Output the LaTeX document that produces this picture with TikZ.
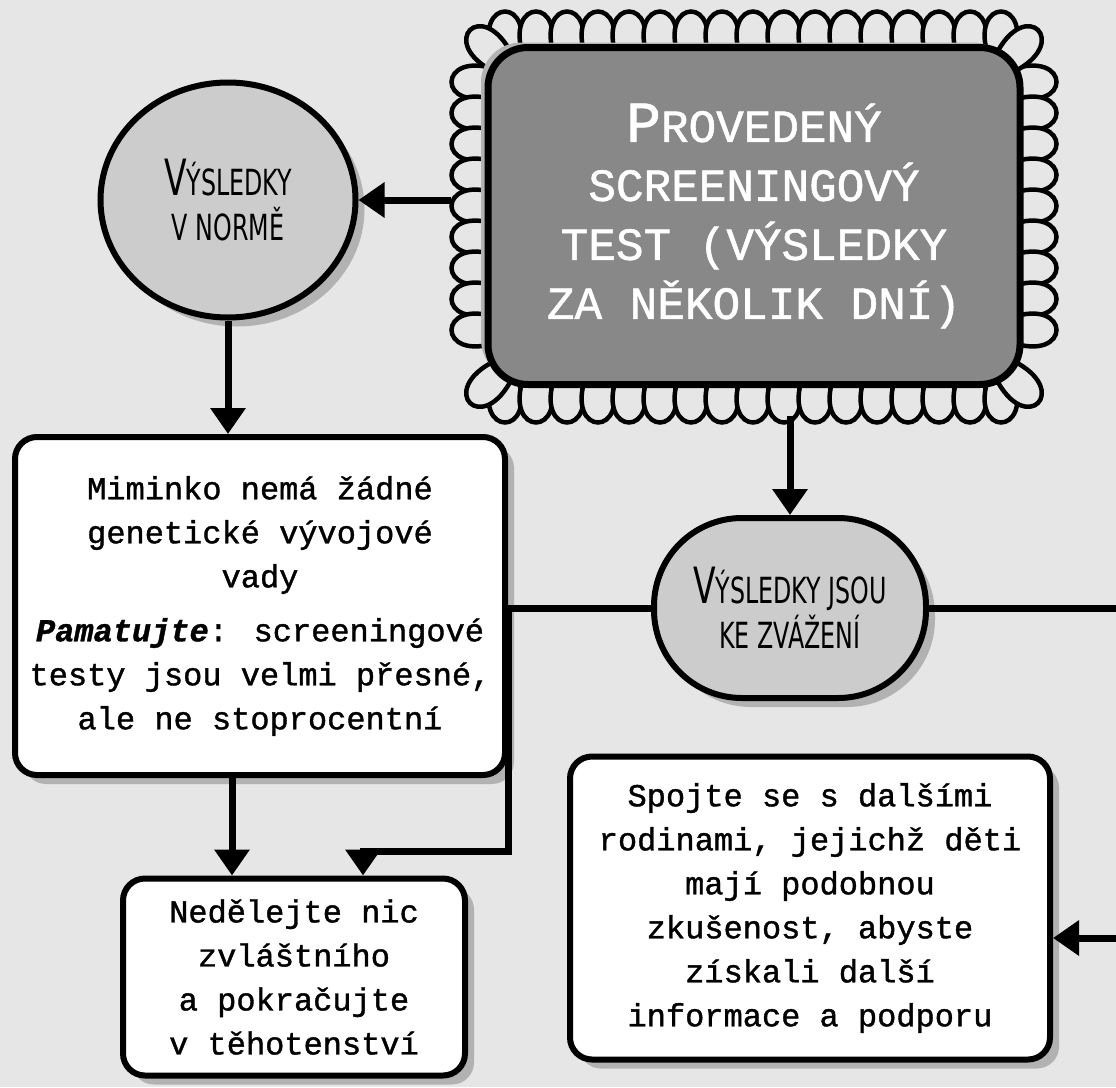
\documentclass[tikz,border=0pt]{standalone}
\usepackage{fontspec}
\usetikzlibrary{arrows.meta,shadows,shapes.geometric}
\newfontfamily\typefont[FakeBold=1.2]{Liberation Mono}
\newfontfamily\handfont[FakeStretch=0.66]{DejaVu Sans}

\definecolor{bgGray}{RGB}{230,230,230}
\definecolor{bubbleGray}{RGB}{204,204,204}
\definecolor{titleGray}{RGB}{136,136,136}
\definecolor{shadowGray}{RGB}{178,178,178}

\tikzstyle{block} = [draw, rectangle, line width=6pt, rounded corners=22pt, fill=white, align=center, inner sep=0pt, font={\typefont\fontsize{32}{44}\selectfont}, drop shadow={shadow xshift=9pt, shadow yshift=-9pt, fill=shadowGray, opacity=1}]
\tikzstyle{blob} = [draw, line width=6pt, fill=bubbleGray, align=center, inner sep=0pt, font={\handfont\fontsize{36}{45}\selectfont}, drop shadow={shadow xshift=9pt, shadow yshift=-9pt, fill=shadowGray, opacity=1}]
\tikzstyle{titlebox} = [draw, rectangle, line width=7pt, rounded corners=40pt, fill=titleGray, text=white, align=center, font={\typefont\fontsize{46}{59}\selectfont}, drop shadow={shadow xshift=-7pt, shadow yshift=5pt, fill=shadowGray, opacity=1}]
\tikzstyle{scallop} = [draw, line width=4.5pt, fill=bgGray]
\tikzstyle{arrow} = [draw, line width=7pt, -{Triangle[width=34pt,length=26pt]}]
\tikzstyle{link} = [draw, line width=7pt]

\begin{document}
\begin{tikzpicture}[x=1pt, y=-1pt]
  \useasboundingbox (0,0) rectangle (1116,1087);
  \fill [bgGray] (0,0) rectangle (1116,1087);

  % frilly border round the test box
  \foreach \x in {493,524,...,989} {
    \draw [scallop] (\x,58) .. controls (\x-22,-4) and (\x+46,-4) .. (\x+24,58);
    \draw [scallop] (\x,376) .. controls (\x-22,438) and (\x+46,438) .. (\x+24,376);
  }
  \foreach \y in {70,101,...,340} {
    \draw [scallop] (498,\y) .. controls (436,\y-22) and (436,\y+46) .. (498,\y+24);
    \draw [scallop] (1010,\y) .. controls (1072,\y-22) and (1072,\y+46) .. (1010,\y+24);
  }
  \foreach \cx/\cy/\ang in {528/88/45, 980/88/-45, 528/345/135, 980/345/-135} {
    \begin{scope}[shift={(\cx,\cy)}, rotate=\ang]
      \draw [scallop] (-12,-34) .. controls (-34,-98) and (34,-98) .. (12,-34);
    \end{scope}
  }

  \node [minimum width=606pt, minimum height=404pt, inner sep=0pt] (frame) at (754,214) {};
  \node [titlebox, minimum width=532pt, minimum height=337pt] (title) at (754,216) {{\fontsize{58}{59}\selectfont P}ROVEDENÝ\\SCREENINGOVÝ\\TEST (VÝSLEDKY\\ZA NĚKOLIK DNÍ)};

  \node [blob, ellipse, minimum width=255pt, minimum height=235pt] (norme) at (228,200) {{\fontsize{50}{45}\selectfont V}ÝSLEDKY\\V NORMĚ};
  \node [blob, rounded corners=88pt, minimum width=272pt, minimum height=180pt] (zvazeni) at (790,608) {{\fontsize{50}{45}\selectfont V}ÝSLEDKY JSOU\\KE ZVÁŽENÍ};

  \node [block, minimum width=490pt, minimum height=338pt] (miminko) at (260,606) {Miminko nemá žádné\\genetické vývojové\\vady\\[10pt]{\bfseries\itshape Pamatujte}: screeningové\\testy jsou velmi přesné,\\ale ne stoprocentní};
  \node [block, minimum width=342pt, minimum height=197pt] (nedelejte) at (294,977) {Nedělejte nic\\zvláštního\\a pokračujte\\v těhotenství};
  \node [block, minimum width=480pt, minimum height=303pt] (spojte) at (810,908) {Spojte se s dalšími\\rodinami, jejichž děti\\mají podobnou\\zkušenost, abyste\\získali další\\informace a podporu};

  \coordinate (dropL) at ([xshift=-28pt]miminko.south);
  \coordinate (bend) at ([yshift=-73pt]miminko.south east);
  \coordinate (dropR) at ([xshift=69pt]nedelejte.north);
  \coordinate (exitR) at (1116,608);
  \coordinate (entryR) at (1116,938);

  \draw [arrow] (frame.west |- norme.east) -- (norme.east);
  \draw [arrow] (frame.south -| zvazeni.north) -- (zvazeni.north);
  \draw [arrow] (norme.south) -- (norme.south |- miminko.north);
  \draw [arrow] (dropL) -- (dropL |- nedelejte.north);
  \draw [arrow] (zvazeni.west) -| (bend) -| (dropR);
  \draw [link] (zvazeni.east) -- (exitR);
  \draw [arrow] (entryR) -- (entryR -| spojte.east);
\end{tikzpicture}
\end{document}
